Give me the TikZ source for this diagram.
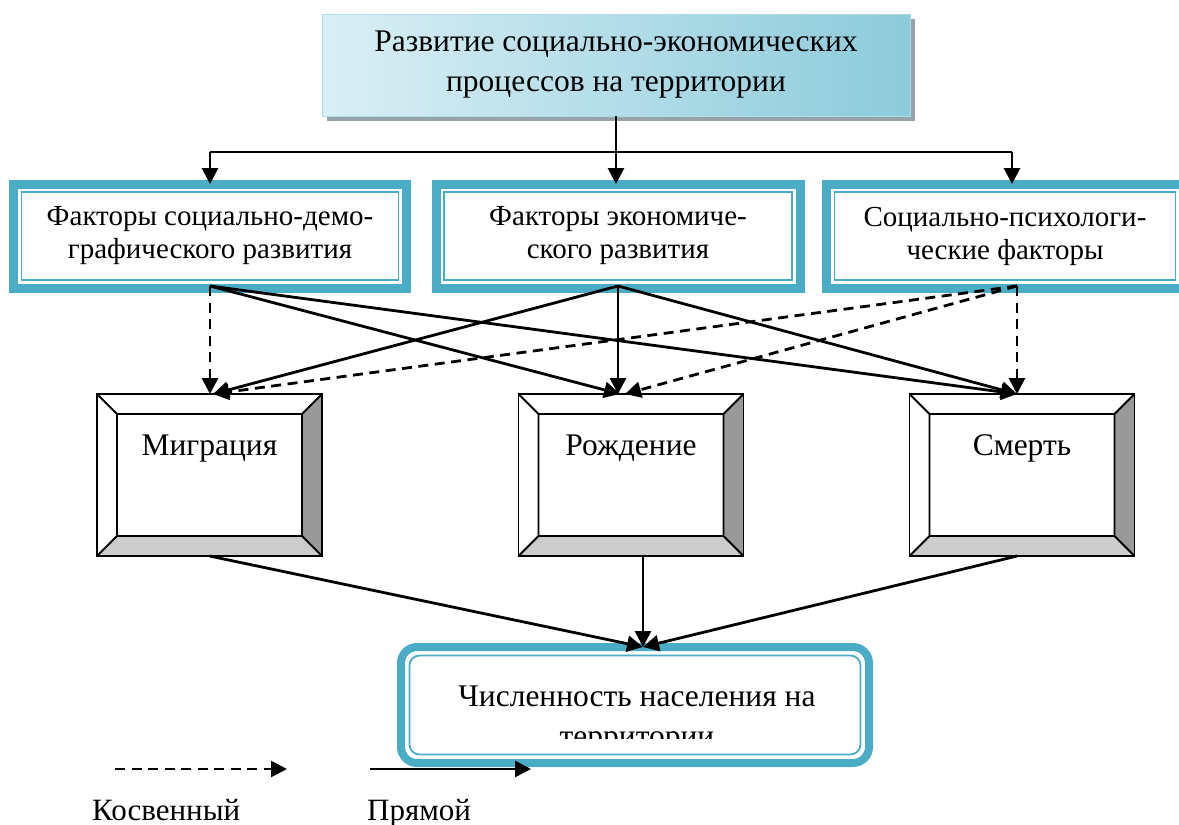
\documentclass[tikz,border=0pt]{standalone}
\usepackage{fontspec}
\setmainfont{Liberation Serif}
\usetikzlibrary{arrows.meta,shadows}
\definecolor{teal1}{RGB}{75,172,198}
\definecolor{lightc}{RGB}{218,239,245}
\definecolor{darkc}{RGB}{140,203,219}
\definecolor{shad}{RGB}{150,164,170}
\definecolor{bevR}{RGB}{153,153,153}
\definecolor{bevB}{RGB}{204,204,204}
\begin{document}
\begin{tikzpicture}[x=1pt,y=-1pt,
  bigtxt/.style={font=\fontsize{31.5}{40}\selectfont, align=center},
  factor/.style={draw=teal1, line width=9pt, fill=white, inner sep=0pt, outer sep=0pt,
     minimum height=104pt, font=\fontsize{29}{33}\selectfont, align=center},
  inl/.style={draw=teal1, line width=1.8pt},
  bevel/.style={draw, line width=1.8pt, fill=white, inner sep=0pt, outer sep=0pt,
     minimum width=225pt, minimum height=162pt, bigtxt,
     path picture={
       \coordinate (bNW) at (path picture bounding box.north west);
       \coordinate (bNE) at (path picture bounding box.north east);
       \coordinate (bSW) at (path picture bounding box.south west);
       \coordinate (bSE) at (path picture bounding box.south east);
       \coordinate (iNW) at ([shift={(20pt,-20pt)}]bNW);
       \coordinate (iNE) at ([shift={(-20pt,-20pt)}]bNE);
       \coordinate (iSW) at ([shift={(20pt,20pt)}]bSW);
       \coordinate (iSE) at ([shift={(-20pt,20pt)}]bSE);
       \fill[bevR] (bNE) -- (bSE) -- (iSE) -- (iNE) -- cycle;
       \fill[bevB] (bSW) -- (bSE) -- (iSE) -- (iSW) -- cycle;
       \draw[line width=1.8pt] (iNW) rectangle (iSE)
         (bNW) -- (iNW) (bNE) -- (iNE) (bSW) -- (iSW) (bSE) -- (iSE);
     }},
  arr/.style={line width=2.8pt, -{Triangle[length=16pt,width=16pt]}},
  ind/.style={arr, dash pattern=on 10pt off 6.5pt},
  plain/.style={line width=2.8pt}
]
\path[use as bounding box, clip] (0,0) rectangle (1179,825);

% top box
\node[bigtxt, minimum width=588pt, minimum height=102pt, inner sep=0pt, outer sep=0pt,
  left color=lightc, right color=darkc, draw=darkc!70!white, line width=1pt,
  drop shadow={shadow xshift=5pt, shadow yshift=-5pt, fill=shad, opacity=1}]
  (top) at (616,65) {Развитие социально-экономических\\процессов на территории};

% factor boxes
\node[factor, minimum width=393pt] (f1) at (210,236) {Факторы социально-демо-\\графического развития};
\node[factor, minimum width=364pt] (f2) at (618,236) {Факторы экономиче-\\ского развития};
\node[factor, minimum width=357pt] (f3) at (1005,236) {Социально-психологи-\\ческие факторы};
\foreach \n in {f1,f2,f3}
  \draw[inl] ([shift={(8pt,-8pt)}]\n.north west) rectangle ([shift={(-8pt,8pt)}]\n.south east);

% bevel boxes
\node[bevel] (m) at (209.5,475) {\raisebox{60pt}{Миграция}};
\node[bevel] (r) at (631,475) {\raisebox{60pt}{Рождение}};
\node[bevel] (s) at (1022,475) {\raisebox{60pt}{Смерть}};

% bottom box
\node[draw=teal1, line width=8pt, rounded corners=16pt, fill=white, inner sep=0pt, outer sep=0pt,
  minimum width=468pt, minimum height=116pt] (p) at (635,705) {};
\draw[inl, rounded corners=10pt] ([shift={(8.5pt,-8.5pt)}]p.north west) rectangle ([shift={(-8.5pt,8.5pt)}]p.south east);
\begin{scope}
  \clip (405,652) rectangle (865,738);
  \node[bigtxt] (pt) at (637,720) {Численность населения на\\территории};
\end{scope}

% top connectors
\coordinate (hl) at (210,152);
\coordinate (hr) at (1012,152);
\draw[plain] (top.south) -- (top.south |- hl);
\draw[plain] (hl) -- (hr);
\draw[arr] (hl) -- (hl |- f1.north);
\draw[arr] (top.south |- hl) -- (top.south |- f2.north);
\draw[arr] (hr) -- (hr |- f3.north);

% factor -> processes
\coordinate (f1o) at ([yshift=2pt]f1.south);
\coordinate (f2o) at ([yshift=2pt]f2.south);
\coordinate (f3o) at ([shift={(12pt,2pt)}]f3.south);
\draw[ind] (f1o) -- (f1o |- m.north);
\draw[arr] (f1o) -- ([xshift=-11pt]r.north);
\draw[arr] (f1o) -- ([xshift=-5pt]s.north);
\draw[arr] (f2o) -- ([xshift=3.5pt]m.north);
\draw[arr] (f2o) -- (f2o |- r.north);
\draw[arr] (f2o) -- ([xshift=-5pt]s.north);
\draw[ind] (f3o) -- ([xshift=3.5pt]m.north);
\draw[ind] (f3o) -- ([xshift=-6pt]r.north);
\draw[ind] (f3o) -- (f3o |- s.north);

% processes -> population
\coordinate (pin) at ([xshift=8pt]p.north);
\draw[arr] (m.south) -- (pin);
\draw[arr] (pin |- r.south) -- (pin);
\draw[arr] ([xshift=-5pt]s.south) -- (pin);

% legend
\coordinate (la1) at (115,769);
\coordinate (la2) at (287,769);
\coordinate (lb1) at (370,769);
\coordinate (lb2) at (531,769);
\draw[ind] (la1) -- (la2);
\draw[arr] (lb1) -- (lb2);
\node[anchor=base west, font=\fontsize{31}{38}\selectfont, inner sep=0pt] (lk) at (92,820) {Косвенный};
\node[anchor=base west, font=\fontsize{31}{38}\selectfont, inner sep=0pt] (lp) at (367,820) {Прямой};
\end{tikzpicture}
\end{document}
